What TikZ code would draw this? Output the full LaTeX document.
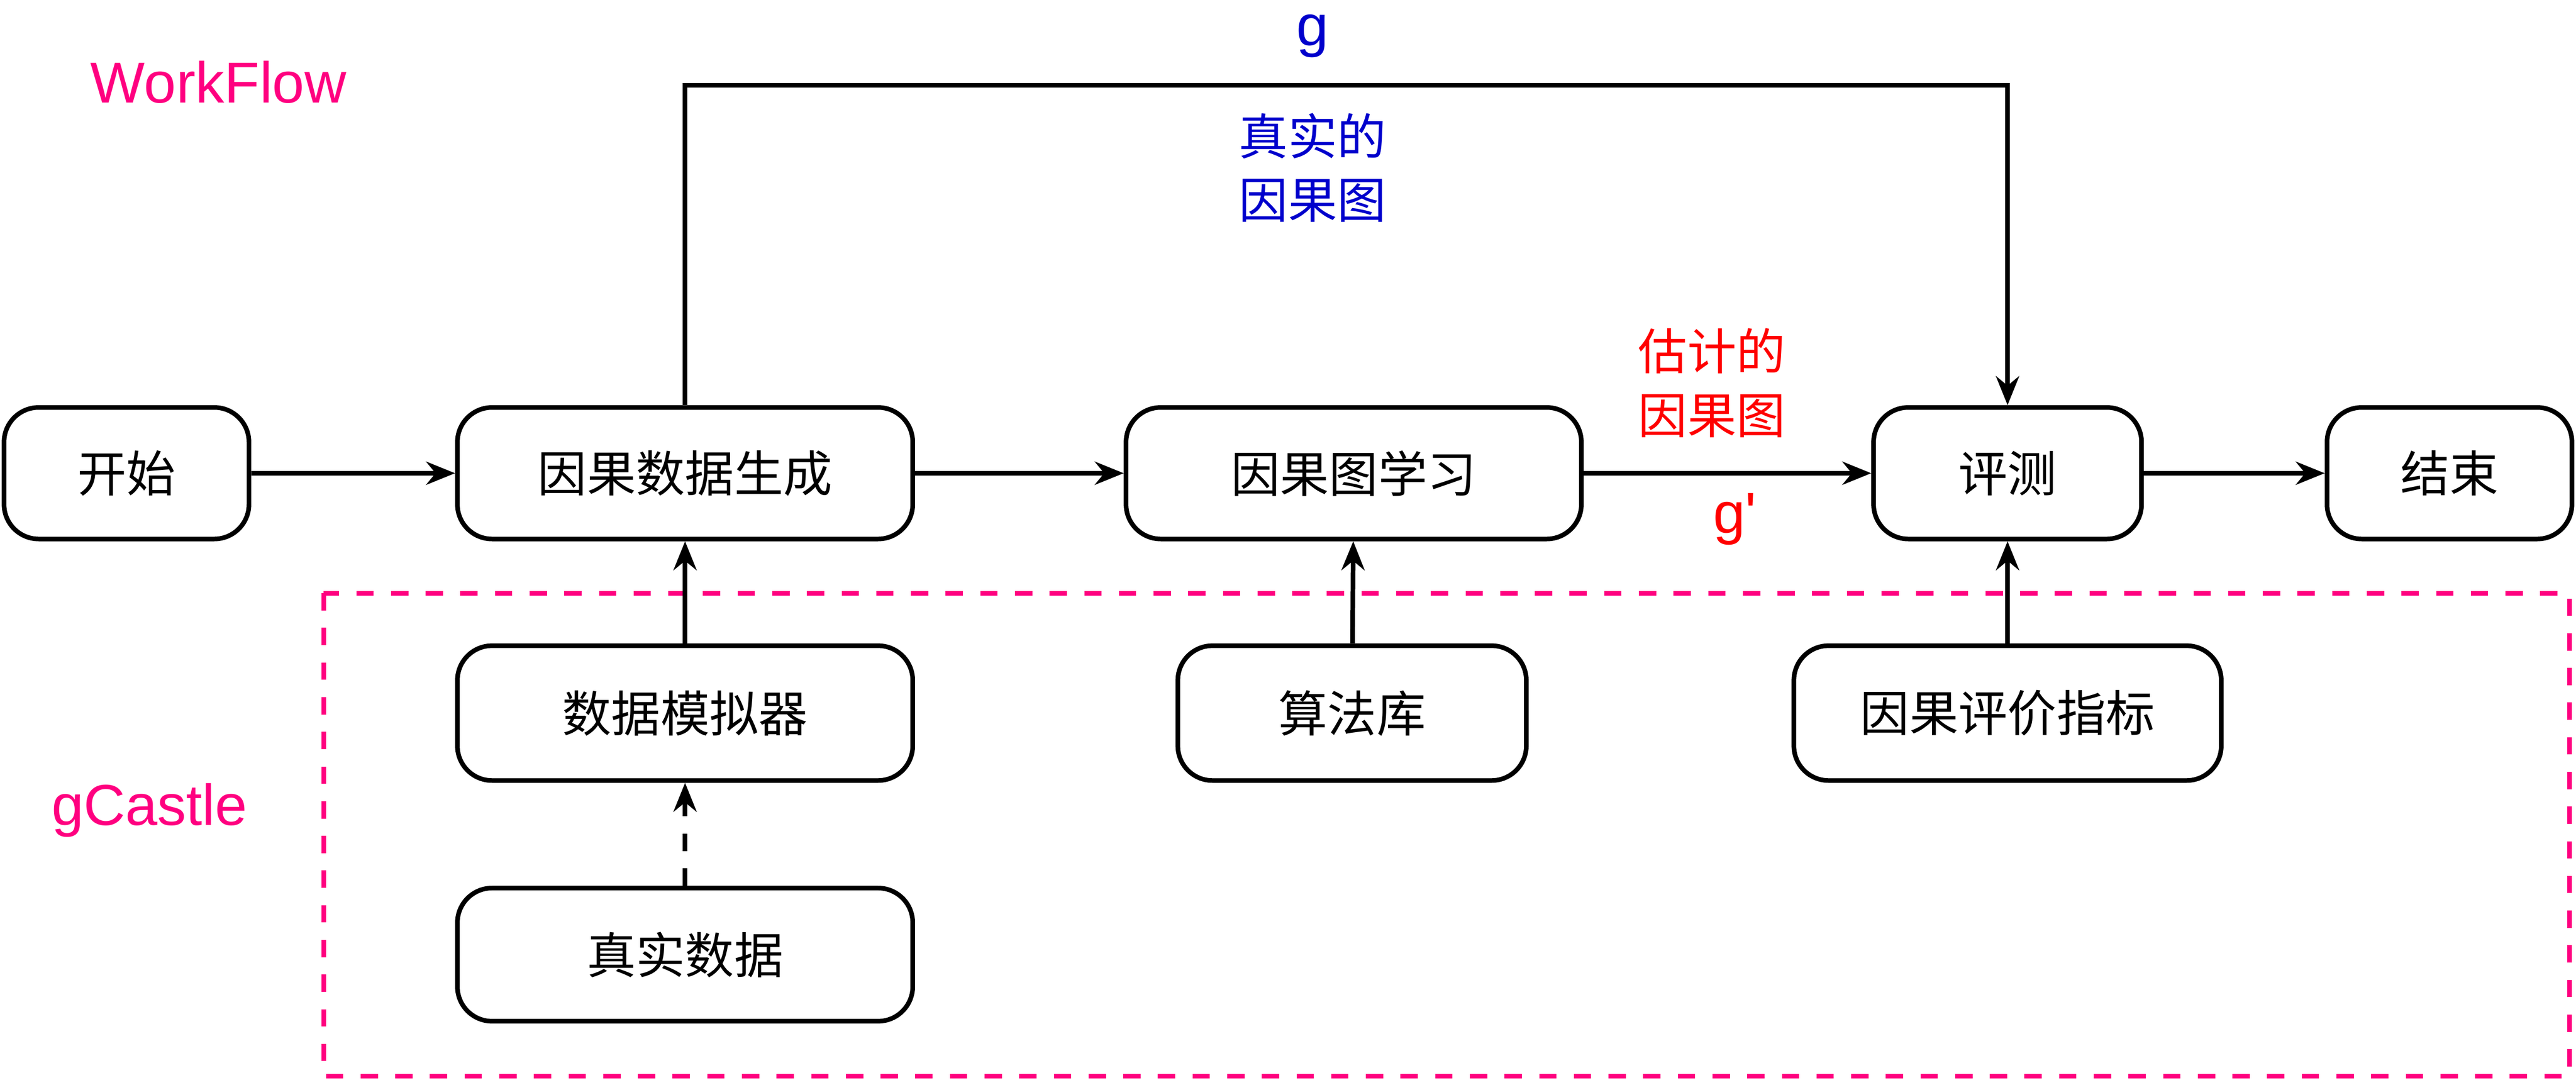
\documentclass[tikz,border=0pt]{standalone}
\usepackage{fontspec}
\setmainfont{Liberation Sans}
\newfontfamily\cjk{Noto Sans CJK SC}
\usetikzlibrary{arrows.meta}
\definecolor{wfpink}{RGB}{255,0,128}
\definecolor{gblue}{RGB}{0,0,204}
\begin{document}
\begin{tikzpicture}[x=0.01cm, y=-0.01cm,
        stage/.style={rectangle, rounded corners=6pt, draw, line width=0.8pt, align=center, font=\cjk\fontsize{8.5}{10}\selectfont},
        arrow/.style={-{Stealth[length=5pt,width=4pt]}, line width=0.8pt}
    ]
        \useasboundingbox (0,0) rectangle (1568,657);
        % workflow
        \node[stage, minimum width=1.49cm, minimum height=0.8cm] (start) at (77,288) {开始};
        \node[stage, minimum width=2.77cm, minimum height=0.8cm] (gen) at (417,288) {因果数据生成};
        \node[stage, minimum width=2.77cm, minimum height=0.8cm] (learn) at (824,288) {因果图学习};
        \node[stage, minimum width=1.63cm, minimum height=0.8cm] (eval) at (1222,288) {评测};
        \node[stage, minimum width=1.49cm, minimum height=0.8cm] (end) at (1491,288) {结束};
        % gCastle
        \node[stage, minimum width=2.77cm, minimum height=0.82cm] (sim) at (417,434) {数据模拟器};
        \node[stage, minimum width=2.77cm, minimum height=0.81cm] (real) at (417,581) {真实数据};
        \node[stage, minimum width=2.12cm, minimum height=0.82cm] (algo) at (823,434) {算法库};
        \node[stage, minimum width=2.60cm, minimum height=0.82cm] (metric) at (1222,434) {因果评价指标};
        \draw[wfpink, dashed, line width=0.8pt] (197,361) rectangle (1564,655);

        \draw[arrow] (start) -- (gen);
        \draw[arrow] (gen) -- (learn);
        \draw[arrow] (learn) -- (eval);
        \draw[arrow] (eval) -- (end);
        \draw[arrow] (gen.north) -- (417,52) -- (1222,52) -- (eval.north);
        \draw[arrow] (sim) -- (gen);
        \draw[arrow, dashed] (real) -- (sim);
        \draw[arrow] (algo) -- (learn);
        \draw[arrow] (metric) -- (eval);

        % labels
        \node[text=gblue, font=\fontsize{10}{12}\selectfont] (g) at (799,22) {g};
        \node[text=gblue, align=center, font=\cjk\fontsize{8.5}{11}\selectfont] (truth) at (799,102) {真实的\\因果图};
        \node[text=red, align=center, font=\cjk\fontsize{8.5}{11}\selectfont] (est) at (1042,233) {估计的\\因果图};
        \node[text=red, font=\fontsize{10}{12}\selectfont] (gp) at (1056,316) {g\textquotesingle};
        \node[text=wfpink, font=\fontsize{10}{12}\selectfont] (wf) at (133,50) {WorkFlow};
        \node[text=wfpink, font=\fontsize{10}{12}\selectfont] (gc) at (91,493) {gCastle};
    \end{tikzpicture}
\end{document}
